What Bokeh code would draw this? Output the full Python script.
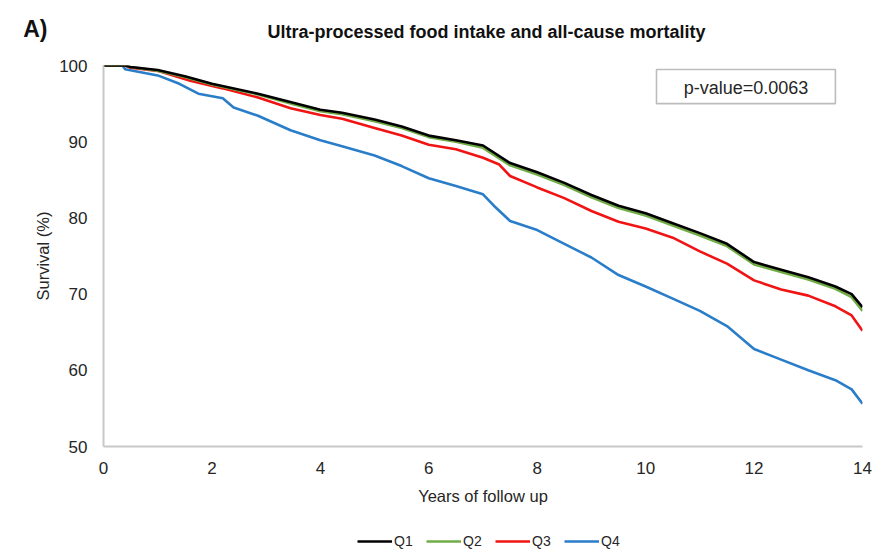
from bokeh.plotting import figure
from bokeh.layouts import column
from bokeh.models import Range1d, Legend, LegendItem, Label, BoxAnnotation, FixedTicker
from bokeh.embed import file_html
from bokeh.resources import INLINE

# ---- data ----
years_q1 = [0, 0.4, 0.5, 1, 1.5, 2, 2.85, 3.5, 4, 4.4, 5, 5.5, 6, 6.5, 7, 7.5, 8, 8.5, 9, 9.5, 10, 10.5, 11, 11.5, 12, 12.5, 13, 13.5, 13.8, 14]
surv_q1 = [100, 100, 99.8, 99.4, 98.6, 97.6, 96.3, 95.1, 94.2, 93.8, 92.9, 92.0, 90.8, 90.2, 89.5, 87.2, 86.0, 84.6, 83.0, 81.6, 80.6, 79.3, 78.0, 76.6, 74.2, 73.2, 72.2, 71.0, 70.0, 68.3]

years_q2 = [0, 0.4, 0.5, 1, 1.5, 2, 2.85, 3.5, 4, 4.4, 5, 5.5, 6, 6.5, 7, 7.5, 8, 8.5, 9, 9.5, 10, 10.5, 11, 11.5, 12, 12.5, 13, 13.5, 13.8, 14]
surv_q2 = [100, 100, 99.8, 99.3, 98.5, 97.5, 96.2, 94.9, 94.0, 93.6, 92.7, 91.8, 90.6, 90.0, 89.2, 86.9, 85.7, 84.3, 82.7, 81.3, 80.3, 79.0, 77.7, 76.3, 73.9, 72.9, 71.9, 70.7, 69.6, 67.8]

years_q3 = [0, 0.4, 0.5, 1, 1.6, 2.2, 2.85, 3.45, 4, 4.4, 5, 5.5, 6, 6.5, 7, 7.3, 7.5, 8, 8.5, 9, 9.5, 10, 10.5, 11, 11.5, 12, 12.5, 13, 13.5, 13.8, 14]
surv_q3 = [100, 100, 99.7, 99.3, 98.0, 97.0, 95.8, 94.4, 93.5, 93.0, 91.8, 90.8, 89.6, 89.0, 87.9, 87.0, 85.5, 84.0, 82.6, 80.9, 79.5, 78.6, 77.4, 75.6, 74.0, 71.8, 70.6, 69.8, 68.4, 67.2, 65.2]

years_q4 = [0, 0.35, 0.4, 1, 1.4, 1.75, 2.2, 2.4, 2.85, 3.45, 4, 4.4, 5, 5.5, 6, 6.5, 7, 7.2, 7.5, 8, 8.5, 9, 9.5, 10, 10.5, 11, 11.5, 12, 12.5, 13, 13.5, 13.8, 14]
surv_q4 = [100, 100, 99.5, 98.7, 97.6, 96.3, 95.7, 94.5, 93.4, 91.5, 90.2, 89.4, 88.2, 86.8, 85.2, 84.2, 83.1, 81.6, 79.6, 78.4, 76.6, 74.8, 72.5, 71.0, 69.4, 67.8, 65.8, 62.8, 61.4, 60.0, 58.7, 57.5, 55.6]

series_names = ["Q1", "Q2", "Q3", "Q4"]
series_colors = ["#000000", "#70ad47", "#f01414", "#2a7dc9"]
x_ticks = [0, 2, 4, 6, 8, 10, 12, 14]
y_ticks = [50, 60, 70, 80, 90, 100]
title_text = "Ultra-processed food intake and all-cause mortality"
panel_text = "A)"
pvalue_text = "p-value=0.0063"

FONT = "Liberation Sans"
W = 874
data = {"Q1": (years_q1, surv_q1), "Q2": (years_q2, surv_q2),
        "Q3": (years_q3, surv_q3), "Q4": (years_q4, surv_q4)}

# ---------- header (panel letter + title) ----------
head = figure(width=W, height=50, output_backend="svg", toolbar_location=None,
              x_range=Range1d(103, 862), y_range=Range1d(50, 6), x_axis_type=None,
              min_border_left=0, min_border_right=0, min_border_top=6, min_border_bottom=0)
head.outline_line_color = None
head.grid.visible = False
ya = head.yaxis[0]
ya.ticker = FixedTicker(ticks=[])
ya.major_tick_out = 0
ya.major_tick_in = 0
ya.minor_tick_out = 0
ya.minor_tick_in = 0
ya.axis_line_color = None
ya.axis_label = panel_text
ya.axis_label_orientation = "horizontal"
ya.axis_label_text_font = FONT
ya.axis_label_text_font_size = "23px"
ya.axis_label_text_font_style = "bold"
ya.axis_label_text_color = "#111111"
ya.axis_label_standoff = 56
head.add_layout(Label(x=486, y=31, text=title_text, text_align="center", text_baseline="middle",
                      text_font=FONT, text_font_size="18px", text_font_style="bold", text_color="#111111"))

# ---------- main chart ----------
p = figure(width=W, height=458, output_backend="svg", toolbar_location=None,
           x_range=Range1d(0, 14), y_range=Range1d(50, 100),
           min_border_left=103, min_border_right=12, min_border_top=15, min_border_bottom=62)
p.outline_line_color = None
p.grid.visible = False

for ax, ticks in ((p.xaxis, x_ticks), (p.yaxis, y_ticks)):
    ax.ticker = FixedTicker(ticks=ticks)
    ax.major_tick_line_color = None
    ax.minor_tick_line_color = None
    ax.axis_line_color = "#c8c8c8"
    ax.axis_line_width = 2
    ax.major_label_text_font = FONT
    ax.major_label_text_font_size = "17px"
    ax.major_label_text_color = "#262626"
    ax.axis_label_text_font = FONT
    ax.axis_label_text_font_style = "normal"
    ax.axis_label_text_color = "#262626"
    ax.axis_label_text_font_size = "16.5px"

p.xaxis.axis_label = "Years of follow up"
p.xaxis.major_label_standoff = 9
p.xaxis.axis_label_standoff = 10
p.yaxis.axis_label = "Survival (%)"
p.yaxis.major_label_standoff = 10
p.yaxis.axis_label_standoff = 4

for name, color in reversed(list(zip(series_names, series_colors))):
    xs, ys = data[name]
    p.line(xs, ys, line_color=color, line_width=2.6)

p.add_layout(BoxAnnotation(left=10.2, right=13.5, bottom=95.0, top=99.48,
                           fill_color="white", fill_alpha=1, line_color="#222222", line_width=1.6))
p.add_layout(Label(x=11.85, y=97.11, text=pvalue_text, text_align="center", text_baseline="middle",
                   text_font=FONT, text_font_size="18px", text_color="#262626"))

# ---------- footer (legend) ----------
# the series are drawn again here only to feed the legend; the view range keeps them off-screen
foot = figure(width=W, height=41, output_backend="svg", toolbar_location=None,
              x_range=Range1d(100, 101), y_range=Range1d(0, 1),
              x_axis_type=None, y_axis_type=None,
              min_border_left=0, min_border_right=0, min_border_top=0, min_border_bottom=0)
foot.outline_line_color = None
foot.grid.visible = False
leg_renderers = {}
for name, color in zip(series_names, series_colors):
    xs, ys = data[name]
    leg_renderers[name] = foot.line(xs, ys, line_color=color, line_width=2.6)
legend = Legend(items=[LegendItem(label=n, renderers=[leg_renderers[n]]) for n in series_names],
                orientation="horizontal", location=(254, 0),
                label_text_font=FONT, label_text_font_size="14px", label_text_color="#262626",
                glyph_width=35, glyph_height=10, spacing=12, label_standoff=2,
                border_line_color=None, background_fill_alpha=0, padding=0, margin=0)
foot.add_layout(legend, "center")

layout = column(head, p, foot, spacing=0)
open("out.html", "w").write(file_html(layout, INLINE))
